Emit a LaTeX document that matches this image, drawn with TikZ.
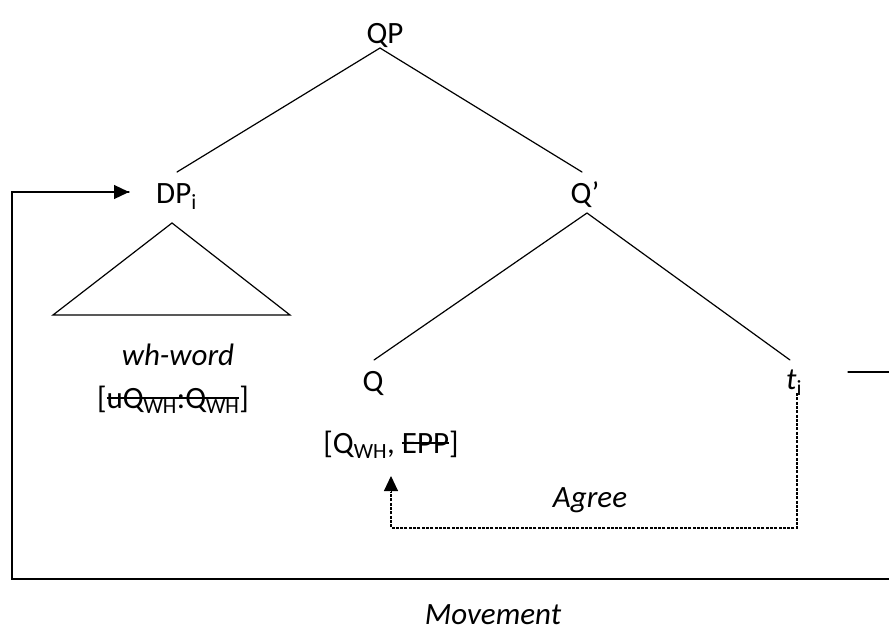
\documentclass[tikz,border=0pt]{standalone}
\usepackage{fontspec}
\setmainfont{Carlito}
\usetikzlibrary{arrows.meta,calc}
% struck-through text: a rule laid over the box of the argument
\newcommand\strk[1]{\setbox0\hbox{#1}\rlap{\rule[0.3em]{\wd0}{0.07em}}\box0}
\begin{document}
\begin{tikzpicture}[x=1pt,y=-1pt,
  lbl/.style={inner sep=0pt, anchor=base, font=\fontsize{31}{36}\selectfont},
  edge/.style={line width=1.2pt, line cap=round},
  agreeline/.style={line width=1.2pt, dash pattern=on 3pt off 1.3pt},
  bigtip/.style={-{Triangle[length=15pt,width=14pt]}}]
\useasboundingbox (0,0) rectangle (889,630);

% labels of the tree
\node[lbl] (qp) at (385,43) {QP};
\node[lbl, anchor=base west] (dp) at (156,203) {DP\textsubscript{i}};
\node[lbl] (qbar) at (585,203) {Q’};
\node[lbl] (q) at (373,391) {Q};
\node[lbl, anchor=base west] (trace) at (786,389) {\textit{t}\textsubscript{i}};
\node[lbl] (wh) at (178,365) {\textit{wh-word}};
\node[lbl] (featdp) at (173,408) {[\strk{uQ\textsubscript{WH}:Q\textsubscript{WH}}]};
\node[lbl] (featq) at (391,453) {[Q\textsubscript{WH}, \strk{EPP}]};
\node[lbl] (agree) at (590,507) {\textit{Agree}};
\node[lbl] (move) at (493,624) {\textit{Movement}};

% branch points
\coordinate (qpApex) at (380,48);
\coordinate (dpTop) at (177,172);
\coordinate (qbarTop) at (582,172);
\coordinate (qbarApex) at (587,213);
\coordinate (qTop) at (374,360);
\coordinate (tTop) at (790,360);

\draw[edge] (qpApex) -- (dpTop);
\draw[edge] (qpApex) -- (qbarTop);
\draw[edge] (qbarApex) -- (qTop);
\draw[edge] (qbarApex) -- (tTop);

% roof over the wh-phrase
\coordinate (roofTop) at (172,223);
\coordinate (roofL) at (53,315);
\coordinate (roofR) at (290,315);
\draw[edge, line join=miter] (roofL) -- (roofTop) -- (roofR) -- cycle;

% movement path, leaving the trace and returning to the specifier
\coordinate (tOut) at (848,372);
\coordinate (edgeR) at (889,372);
\coordinate (bottomR) at (889,579);
\coordinate (bottomL) at (12,579);
\coordinate (topL) at (12,192);
\coordinate (dpIn) at (129,192);
\draw[edge] (tOut) -- (edgeR);
\draw[edge] (bottomR) -- (bottomL) -- (topL) -- (dpIn);
\draw[bigtip, line width=1.2pt] ($(dpIn)+(-1,0)$) -- (dpIn);

% agreement path, from the trace to the probe
\coordinate (tDown) at (797,393);
\coordinate (agreeR) at (797,528);
\coordinate (agreeL) at (391,528);
\coordinate (qUp) at (391,476);
\draw[agreeline] (tDown) -- (agreeR) -- (agreeL) -- ($(qUp)+(0,16)$);
\draw[bigtip, line width=1pt] ($(qUp)+(0,15)$) -- (qUp);
\end{tikzpicture}
\end{document}
